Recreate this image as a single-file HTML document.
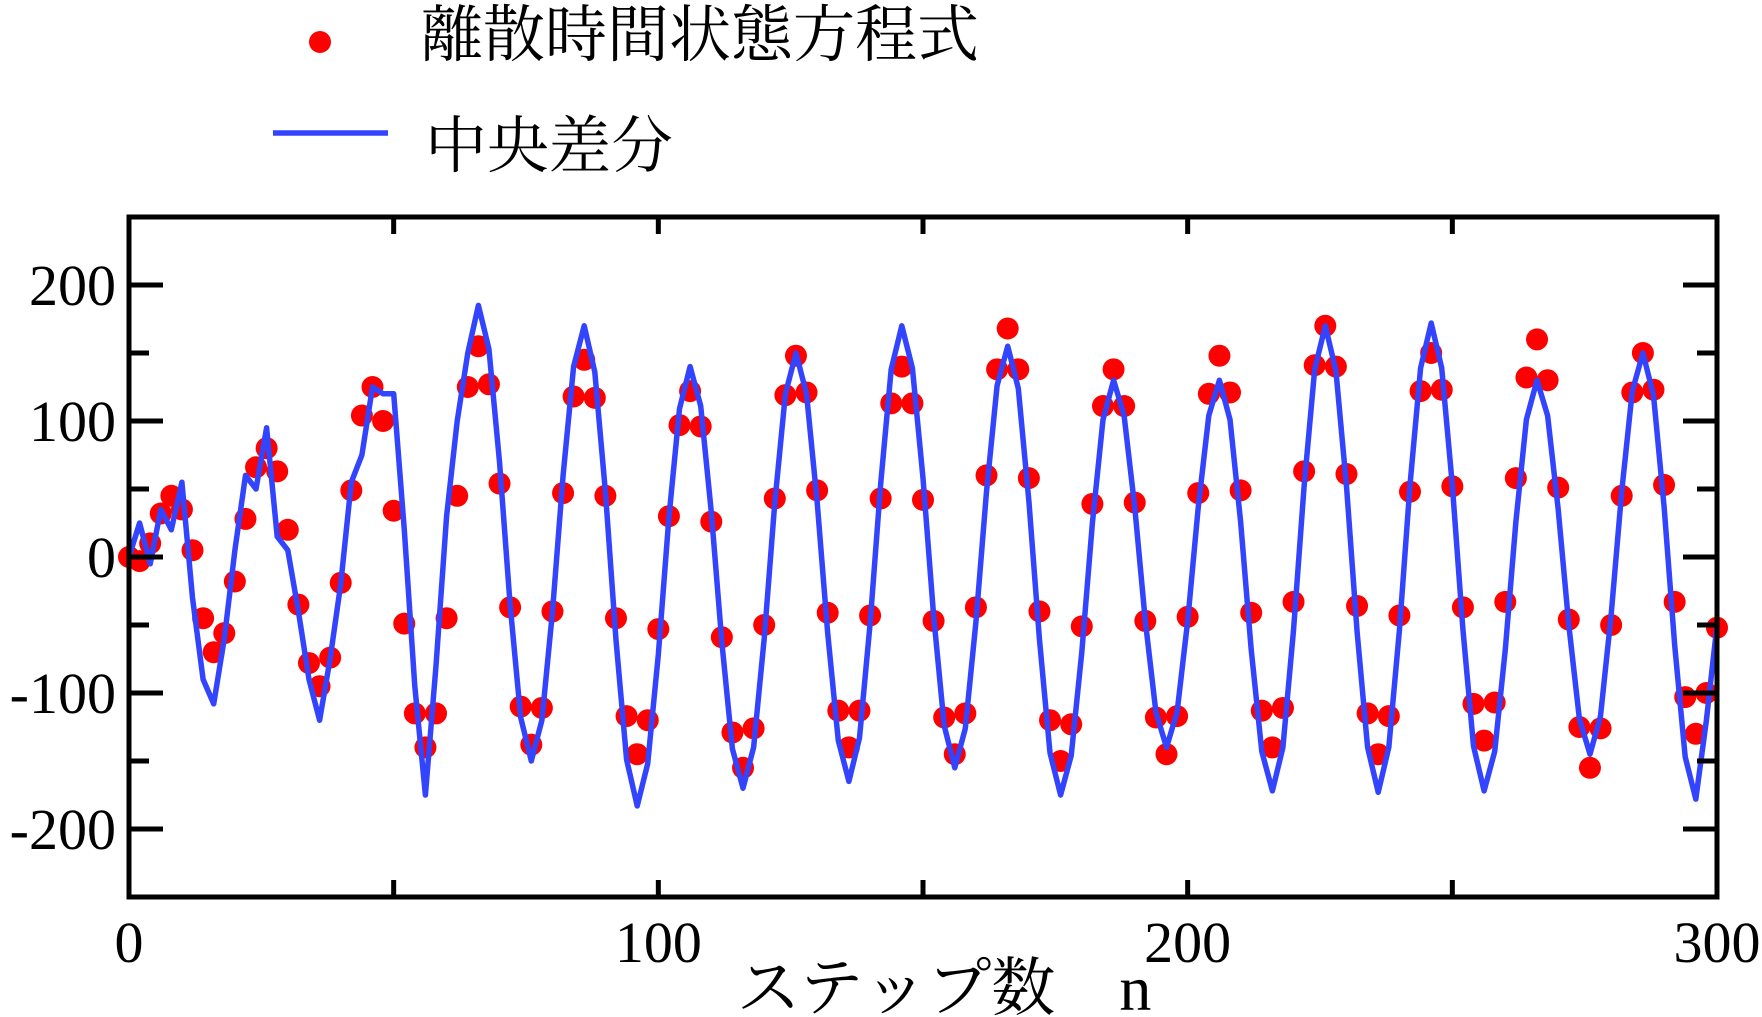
<!DOCTYPE html>
<html><head><meta charset="utf-8"><style>
html,body{margin:0;padding:0;background:#fff;}
svg{display:block;}
text{font-family:"Liberation Serif","Noto Serif CJK JP","Noto Serif CJK SC",serif;fill:#000;}
</style></head><body>
<svg id="chart" width="1762" height="1017" viewBox="0 0 1762 1017" xmlns="http://www.w3.org/2000/svg">
<g>
<circle cx="320" cy="42" r="11" fill="#ff0000"/>
<text x="421" y="56" font-size="62">離散時間状態方程式</text>
<line x1="273" y1="133" x2="388" y2="133" stroke="#3344ff" stroke-width="5.5"/>
<text x="425" y="167" font-size="62">中央差分</text>
</g>
<g id="plot"></g>
<text x="944" y="1010" font-size="64" text-anchor="middle">ステップ数　n</text>
</svg>
<script>
const stepsDots = [];
for (let n = 0; n <= 300; n += 2) stepsDots.push(n);
const dotValues = [0,-3,10,32,45,35,5,-45,-70,-56,-18,28,66,80,63,20,-35,-78,-95,-74,-19,49,104,125,100,34,-49,-115,-140,-115,-45,45,125,155,127,54,-37,-110,-138,-111,-40,47,118,145,117,45,-45,-117,-145,-120,-53,30,97,122,96,26,-59,-129,-155,-126,-50,43,119,148,121,49,-41,-113,-140,-113,-43,43,113,140,113,42,-47,-118,-145,-115,-37,60,138,168,138,58,-40,-120,-150,-123,-51,39,111,138,111,40,-47,-118,-145,-117,-44,47,120,148,121,49,-41,-113,-140,-111,-33,63,141,170,140,61,-36,-115,-145,-117,-43,48,122,150,123,52,-37,-108,-135,-107,-33,58,132,160,130,51,-46,-125,-155,-126,-50,45,121,150,123,53,-33,-103,-130,-100,-52];
const lineValues = [0,25,-5,35,20,55,-30,-90,-108,-60,5,60,50,95,15,5,-40,-90,-120,-75,-20,55,75,125,120,120,20,-95,-175,-80,30,100,150,185,153,70,-35,-118,-150,-120,-40,60,140,170,136,48,-61,-149,-183,-152,-72,29,109,140,111,33,-63,-141,-170,-140,-60,40,120,150,120,41,-56,-135,-165,-133,-49,54,138,170,139,58,-43,-124,-155,-126,-48,48,126,155,124,41,-61,-144,-175,-146,-70,25,101,130,104,37,-47,-114,-140,-114,-47,37,104,130,101,26,-68,-143,-172,-140,-54,52,138,170,137,52,-55,-140,-173,-140,-54,53,139,172,139,53,-53,-139,-172,-143,-68,26,101,130,104,35,-50,-119,-145,-117,-43,48,122,150,119,37,-65,-147,-178,-120,-50];
const xTickVals = [0,50,100,150,200,250,300];
const xTickLabels = ["0","","100","","200","","300"];
const yTickVals = [-250,-200,-150,-100,-50,0,50,100,150,200,250];
const yTickLabels = ["","-200","","-100","","0","","100","","200",""];

const L=129,R=1717,T=217,B=897;
const X = v => L + (v-0)/(300-0)*(R-L);
const Y = v => B - (v+250)/500*(B-T);
const NS="http://www.w3.org/2000/svg";
const g=document.getElementById('plot');
function mk(tag,attrs,parent){const e=document.createElementNS(NS,tag);for(const k in attrs)e.setAttribute(k,attrs[k]);(parent||g).appendChild(e);return e;}

stepsDots.forEach((n,i)=>{
  const c=mk('circle',{cx:X(n),cy:Y(dotValues[i]),r:11,fill:'#ff0000'});
  
  
});
const pts=stepsDots.map((n,i)=>X(n).toFixed(1)+','+Y(lineValues[i]).toFixed(1)).join(' ');
const pl=mk('polyline',{points:pts,fill:'none',stroke:'#3344ff','stroke-width':5.5,'stroke-linejoin':'round'});



const fr=mk('rect',{x:L,y:T,width:R-L,height:B-T,fill:'none',stroke:'#000','stroke-width':5});



xTickVals.forEach((v,i)=>{
  const x=X(v);
  const t1=mk('line',{x1:x,y1:B,x2:x,y2:B-17,stroke:'#000','stroke-width':5});
  
  
  const t2=mk('line',{x1:x,y1:T,x2:x,y2:T+17,stroke:'#000','stroke-width':5});
  
  
  if(xTickLabels[i]){
    const tx=mk('text',{x:x,y:962,'font-size':58,'text-anchor':'middle'});
    tx.textContent=xTickLabels[i];
    
    
  }
});
yTickVals.forEach((v,i)=>{
  const y=Y(v);
  if(v===-250||v===250) return;
  const len = yTickLabels[i] ? 34 : 20;
  const t1=mk('line',{x1:L,y1:y,x2:L+len,y2:y,stroke:'#000','stroke-width':5});
  
  
  const t2=mk('line',{x1:R,y1:y,x2:R-len,y2:y,stroke:'#000','stroke-width':5});
  
  
  if(yTickLabels[i]){
    const tx=mk('text',{x:116,y:y+20,'font-size':58,'text-anchor':'end'});
    tx.textContent=yTickLabels[i];
    
    
  }
});
</script>
</body></html>
